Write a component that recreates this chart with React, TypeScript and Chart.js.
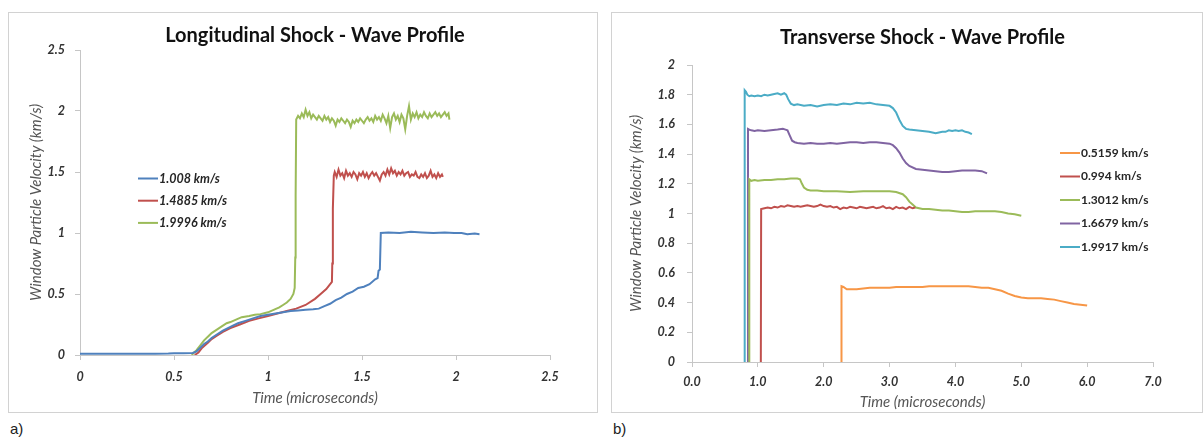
import React, { useEffect, useRef } from "react";
import { Chart, registerables } from "chart.js";

Chart.register(...registerables);

type Pt = [number, number];

// ---------- Longitudinal shock (panel a) ----------
const longTitle = "Longitudinal Shock - Wave Profile";
const longLabels = ["1.008 km/s", "1.4885 km/s", "1.9996 km/s"];
const longColors = ["#4F81BD", "#C0504D", "#9BBB59"];
const longXTicks = ["0", "0.5", "1", "1.5", "2", "2.5"];
const longYTicks = ["0", "0.5", "1", "1.5", "2", "2.5"];

const longBlue: Pt[] = [
  [0, 0.01], [0.1, 0.01], [0.2, 0.01], [0.3, 0.01], [0.4, 0.01], [0.47, 0.012], [0.5, 0.015],
  [0.55, 0.015], [0.6, 0.017], [0.62, 0.03], [0.64, 0.06], [0.66, 0.09], [0.68, 0.11], [0.7, 0.14],
  [0.73, 0.17], [0.76, 0.2], [0.8, 0.23], [0.84, 0.26], [0.88, 0.28], [0.92, 0.3], [0.96, 0.32],
  [1.0, 0.33], [1.04, 0.34], [1.08, 0.35], [1.12, 0.36], [1.16, 0.365], [1.2, 0.37], [1.24, 0.375],
  [1.27, 0.38], [1.3, 0.4], [1.33, 0.42], [1.36, 0.45], [1.39, 0.47], [1.42, 0.5], [1.45, 0.52],
  [1.48, 0.55], [1.51, 0.56], [1.54, 0.58], [1.57, 0.62], [1.583, 0.63], [1.588, 0.69], [1.595, 0.7],
  [1.6, 1.0], [1.64, 1.005], [1.7, 1.0], [1.76, 1.01], [1.82, 1.005], [1.88, 1.0], [1.94, 1.005],
  [1.99, 1.0], [2.03, 1.0], [2.06, 0.99], [2.1, 0.995], [2.125, 0.99],
];

const longRed: Pt[] = [
  [0.61, 0], [0.63, 0.02], [0.65, 0.06], [0.68, 0.1], [0.7, 0.13], [0.73, 0.16], [0.76, 0.19],
  [0.8, 0.22], [0.85, 0.25], [0.9, 0.28], [0.95, 0.3], [1.0, 0.32], [1.05, 0.34], [1.1, 0.36],
  [1.15, 0.38], [1.2, 0.41], [1.25, 0.46], [1.28, 0.5], [1.31, 0.54], [1.34, 0.6], [1.342, 0.75],
  [1.345, 1.2], [1.35, 1.47], [1.355, 1.5], [1.365, 1.46], [1.375, 1.52], [1.385, 1.47], [1.395, 1.49],
  [1.405, 1.45], [1.415, 1.51], [1.425, 1.47], [1.435, 1.49], [1.445, 1.46], [1.455, 1.5], [1.465, 1.48],
  [1.475, 1.44], [1.485, 1.49], [1.495, 1.47], [1.505, 1.5], [1.515, 1.46], [1.525, 1.49], [1.535, 1.45],
  [1.545, 1.48], [1.555, 1.5], [1.565, 1.47], [1.575, 1.49], [1.585, 1.46], [1.595, 1.43], [1.605, 1.48],
  [1.615, 1.5], [1.625, 1.47], [1.635, 1.52], [1.645, 1.48], [1.655, 1.53], [1.665, 1.49], [1.675, 1.51],
  [1.685, 1.47], [1.695, 1.5], [1.705, 1.48], [1.715, 1.51], [1.725, 1.47], [1.735, 1.49], [1.745, 1.5],
  [1.755, 1.46], [1.765, 1.48], [1.775, 1.47], [1.785, 1.5], [1.795, 1.46], [1.805, 1.45], [1.815, 1.48],
  [1.825, 1.46], [1.835, 1.49], [1.845, 1.45], [1.855, 1.47], [1.865, 1.51], [1.875, 1.46], [1.885, 1.48],
  [1.895, 1.45], [1.905, 1.49], [1.915, 1.46], [1.925, 1.48], [1.93, 1.46],
];

const longGreen: Pt[] = [
  [0.595, 0], [0.6, 0.01], [0.62, 0.04], [0.64, 0.08], [0.66, 0.12], [0.68, 0.15], [0.7, 0.18],
  [0.72, 0.2], [0.75, 0.23], [0.78, 0.26], [0.8, 0.27], [0.83, 0.29], [0.86, 0.31], [0.9, 0.32],
  [0.93, 0.33], [0.96, 0.335], [1.0, 0.35], [1.03, 0.37], [1.06, 0.39], [1.08, 0.41], [1.1, 0.43],
  [1.12, 0.46], [1.135, 0.5], [1.142, 0.55], [1.145, 0.8], [1.147, 1.3], [1.15, 1.93], [1.16, 1.96],
  [1.17, 1.94], [1.18, 1.98], [1.19, 1.95], [1.2, 2.01], [1.21, 1.96], [1.22, 1.99], [1.23, 1.94],
  [1.24, 1.97], [1.25, 1.95], [1.26, 1.93], [1.27, 1.96], [1.28, 1.94], [1.29, 1.92], [1.3, 1.96],
  [1.31, 1.93], [1.32, 1.95], [1.33, 1.91], [1.34, 1.94], [1.35, 1.92], [1.36, 1.88], [1.37, 1.93],
  [1.38, 1.91], [1.39, 1.94], [1.4, 1.92], [1.41, 1.9], [1.42, 1.93], [1.43, 1.91], [1.44, 1.87],
  [1.45, 1.92], [1.46, 1.9], [1.47, 1.93], [1.48, 1.91], [1.49, 1.94], [1.5, 1.92], [1.51, 1.9],
  [1.52, 1.93], [1.53, 1.95], [1.54, 1.92], [1.55, 1.94], [1.56, 1.91], [1.57, 1.96], [1.58, 1.93],
  [1.59, 1.95], [1.6, 1.92], [1.61, 1.97], [1.62, 1.94], [1.63, 1.9], [1.64, 1.96], [1.65, 1.86],
  [1.66, 1.95], [1.67, 1.98], [1.68, 1.93], [1.69, 1.96], [1.7, 1.91], [1.71, 1.97], [1.72, 1.94],
  [1.73, 1.85], [1.74, 1.96], [1.75, 2.04], [1.76, 1.93], [1.77, 1.98], [1.78, 1.95], [1.79, 1.99],
  [1.8, 1.94], [1.81, 1.97], [1.82, 1.95], [1.83, 1.99], [1.84, 1.96], [1.85, 1.94], [1.86, 1.98],
  [1.87, 1.95], [1.88, 1.97], [1.89, 1.99], [1.9, 1.96], [1.91, 1.98], [1.92, 1.95], [1.93, 1.97],
  [1.94, 1.99], [1.95, 1.96], [1.96, 1.98], [1.965, 1.93],
];

// ---------- Transverse shock (panel b) ----------
const transTitle = "Transverse Shock - Wave Profile";
const transLabels = ["0.5159 km/s", "0.994 km/s", "1.3012 km/s", "1.6679 km/s", "1.9917 km/s"];
const transColors = ["#F79646", "#C0504D", "#9BBB59", "#8064A2", "#4BACC6"];
const transXTicks = ["0.0", "1.0", "2.0", "3.0", "4.0", "5.0", "6.0", "7.0"];
const transYTicks = ["0", "0.2", "0.4", "0.6", "0.8", "1", "1.2", "1.4", "1.6", "1.8", "2"];

const transOrange: Pt[] = [
  [2.27, 0], [2.27, 0.51], [2.3, 0.505], [2.35, 0.49], [2.4, 0.49], [2.5, 0.49], [2.6, 0.495],
  [2.7, 0.5], [2.8, 0.5], [2.9, 0.5], [3.0, 0.5], [3.1, 0.505], [3.2, 0.505], [3.3, 0.505],
  [3.4, 0.505], [3.5, 0.505], [3.6, 0.51], [3.7, 0.51], [3.8, 0.51], [3.9, 0.51], [4.0, 0.51],
  [4.1, 0.51], [4.2, 0.51], [4.3, 0.505], [4.4, 0.5], [4.5, 0.5], [4.6, 0.49], [4.7, 0.48],
  [4.8, 0.46], [4.9, 0.445], [5.0, 0.435], [5.1, 0.43], [5.2, 0.43], [5.3, 0.43], [5.4, 0.425],
  [5.5, 0.42], [5.6, 0.41], [5.7, 0.4], [5.8, 0.39], [5.9, 0.385], [6.0, 0.38],
];

const transRed: Pt[] = [
  [1.045, 0], [1.05, 1.03], [1.1, 1.035], [1.15, 1.04], [1.2, 1.035], [1.25, 1.045], [1.3, 1.04],
  [1.35, 1.05], [1.4, 1.045], [1.45, 1.055], [1.5, 1.05], [1.55, 1.045], [1.6, 1.05], [1.65, 1.045],
  [1.7, 1.05], [1.75, 1.055], [1.8, 1.05], [1.85, 1.045], [1.9, 1.05], [1.95, 1.06], [2.0, 1.05],
  [2.05, 1.045], [2.1, 1.05], [2.15, 1.04], [2.2, 1.045], [2.25, 1.03], [2.3, 1.04], [2.35, 1.035],
  [2.4, 1.045], [2.45, 1.04], [2.5, 1.035], [2.55, 1.045], [2.6, 1.04], [2.65, 1.035], [2.7, 1.04],
  [2.75, 1.045], [2.8, 1.035], [2.85, 1.04], [2.9, 1.05], [2.95, 1.035], [3.0, 1.04], [3.05, 1.03],
  [3.1, 1.045], [3.15, 1.035], [3.2, 1.04], [3.25, 1.03], [3.3, 1.045], [3.35, 1.035], [3.39, 1.04],
];

const transGreen: Pt[] = [
  [0.87, 0], [0.87, 1.23], [0.9, 1.22], [0.95, 1.225], [1.0, 1.22], [1.1, 1.225], [1.2, 1.225],
  [1.3, 1.23], [1.4, 1.23], [1.5, 1.235], [1.6, 1.235], [1.64, 1.23], [1.67, 1.2], [1.7, 1.175],
  [1.75, 1.16], [1.8, 1.155], [1.9, 1.155], [2.0, 1.15], [2.2, 1.15], [2.4, 1.145], [2.6, 1.15],
  [2.8, 1.15], [3.0, 1.15], [3.1, 1.145], [3.2, 1.13], [3.25, 1.11], [3.3, 1.08], [3.35, 1.06],
  [3.4, 1.04], [3.5, 1.03], [3.6, 1.03], [3.7, 1.025], [3.8, 1.02], [3.9, 1.02], [4.0, 1.015],
  [4.1, 1.01], [4.2, 1.01], [4.3, 1.015], [4.4, 1.015], [4.5, 1.015], [4.6, 1.015], [4.7, 1.01],
  [4.8, 1.0], [4.9, 0.995], [5.0, 0.985],
];

const transPurple: Pt[] = [
  [0.85, 0], [0.85, 1.57], [0.87, 1.565], [0.9, 1.56], [0.95, 1.555], [1.0, 1.56], [1.1, 1.555],
  [1.2, 1.56], [1.3, 1.565], [1.38, 1.57], [1.42, 1.565], [1.45, 1.56], [1.48, 1.53], [1.52, 1.49],
  [1.56, 1.48], [1.6, 1.475], [1.7, 1.47], [1.8, 1.475], [1.9, 1.47], [2.0, 1.47], [2.1, 1.475],
  [2.2, 1.47], [2.3, 1.475], [2.4, 1.48], [2.5, 1.48], [2.6, 1.475], [2.7, 1.48], [2.8, 1.48],
  [2.9, 1.475], [3.0, 1.47], [3.05, 1.46], [3.1, 1.44], [3.15, 1.41], [3.2, 1.37], [3.25, 1.34],
  [3.3, 1.32], [3.4, 1.3], [3.5, 1.295], [3.6, 1.29], [3.7, 1.285], [3.8, 1.28], [3.9, 1.28],
  [4.0, 1.285], [4.1, 1.29], [4.2, 1.29], [4.3, 1.29], [4.4, 1.285], [4.48, 1.27],
];

const transAqua: Pt[] = [
  [0.8, 0], [0.8, 1.83], [0.82, 1.82], [0.84, 1.8], [0.87, 1.79], [0.9, 1.795], [0.95, 1.79],
  [1.0, 1.795], [1.05, 1.79], [1.1, 1.8], [1.15, 1.795], [1.2, 1.8], [1.25, 1.805], [1.3, 1.81],
  [1.35, 1.8], [1.4, 1.81], [1.43, 1.8], [1.46, 1.77], [1.5, 1.74], [1.55, 1.73], [1.6, 1.735],
  [1.7, 1.725], [1.8, 1.73], [1.9, 1.72], [2.0, 1.73], [2.1, 1.735], [2.2, 1.73], [2.3, 1.74],
  [2.4, 1.735], [2.5, 1.745], [2.6, 1.74], [2.7, 1.745], [2.8, 1.735], [2.9, 1.73], [3.0, 1.725],
  [3.05, 1.71], [3.1, 1.68], [3.15, 1.63], [3.2, 1.59], [3.25, 1.57], [3.3, 1.565], [3.4, 1.56],
  [3.5, 1.555], [3.6, 1.55], [3.65, 1.545], [3.7, 1.54], [3.75, 1.545], [3.8, 1.55], [3.85, 1.55],
  [3.9, 1.56], [3.95, 1.555], [4.0, 1.56], [4.05, 1.555], [4.1, 1.56], [4.15, 1.55], [4.2, 1.545],
  [4.25, 1.535],
];

const yAxisTitle = "Window Particle Velocity (km/s)";
const xAxisTitle = "Time (microseconds)";

// ---------- helpers ----------
const FONT = "Lato, 'Open Sans', sans-serif";
const AXIS_COLOR = "#c6c6c6";

type LegendCfg = { x: number; y: number; gap: number; font: string };

function makeLegend(cfg: LegendCfg) {
  return {
    id: "floatLegend",
    afterDraw(chart: any) {
      const ctx = chart.ctx as CanvasRenderingContext2D;
      ctx.save();
      chart.data.datasets.forEach((ds: any, i: number) => {
        const y = cfg.y + i * cfg.gap;
        ctx.strokeStyle = ds.borderColor;
        ctx.lineWidth = 2;
        ctx.beginPath();
        ctx.moveTo(cfg.x, y);
        ctx.lineTo(cfg.x + 20, y);
        ctx.stroke();
        ctx.font = cfg.font;
        ctx.fillStyle = "#262626";
        ctx.textAlign = "left";
        ctx.textBaseline = "middle";
        ctx.fillText(ds.label, cfg.x + 21, y);
      });
      ctx.restore();
    },
  };
}

type Layout = {
  yWidth: number;
  xHeight: number;
  right: number;
  titlePad: { top: number; bottom: number };
  yTitlePad: number;
  xTitlePad: number;
  xTickPad: number;
  yTickPad: number;
};

function buildConfig(
  title: string,
  series: Pt[][],
  labels: string[],
  colors: string[],
  xTicks: string[],
  yTicks: string[],
  xRange: [number, number, number],
  yRange: [number, number, number],
  lay: Layout,
  legend: LegendCfg
): any {
  const tickFont = { family: FONT, size: 12.5, weight: "bold" as const, style: "italic" as const, lineHeight: 1.2 };
  const axisTitleFont = { family: FONT, size: 15, style: "italic" as const, lineHeight: 1.2 };
  return {
    type: "line",
    data: {
      datasets: series.map((pts, i) => ({
        label: labels[i],
        data: pts.map(([x, y]) => ({ x, y })),
        borderColor: colors[i],
        backgroundColor: colors[i],
        borderWidth: 2,
        pointRadius: 0,
        tension: 0,
        fill: false,
      })),
    },
    options: {
      animation: false,
      responsive: false,
      maintainAspectRatio: false,
      layout: { padding: { left: 0, right: lay.right, top: 0, bottom: 0 } },
      plugins: {
        legend: { display: false },
        tooltip: { enabled: false },
        title: {
          display: true,
          fullSize: false,
          text: title,
          color: "#111",
          font: { family: FONT, size: 20, weight: "bold", lineHeight: 1.2 },
          padding: lay.titlePad,
        },
      },
      scales: {
        x: {
          type: "linear",
          min: xRange[0],
          max: xRange[1],
          afterFit: (s: any) => {
            s.height = lay.xHeight;
          },
          ticks: {
            stepSize: xRange[2],
            color: "#333",
            font: tickFont,
            padding: lay.xTickPad,
            maxRotation: 0,
            autoSkip: false,
            callback: (_v: any, i: number) => xTicks[i],
          },
          grid: { drawOnChartArea: false, drawTicks: true, tickLength: 5, color: AXIS_COLOR },
          border: { display: true, color: AXIS_COLOR, width: 1 },
          title: {
            display: true,
            text: xAxisTitle,
            color: "#555",
            font: axisTitleFont,
            padding: { top: 0, bottom: lay.xTitlePad },
          },
        },
        y: {
          type: "linear",
          min: yRange[0],
          max: yRange[1],
          afterFit: (s: any) => {
            s.width = lay.yWidth;
          },
          ticks: {
            stepSize: yRange[2],
            color: "#333",
            font: tickFont,
            padding: lay.yTickPad,
            autoSkip: false,
            callback: (_v: any, i: number) => yTicks[i],
          },
          grid: { drawOnChartArea: false, drawTicks: true, tickLength: 5, color: AXIS_COLOR },
          border: { display: true, color: AXIS_COLOR, width: 1 },
          title: {
            display: true,
            text: yAxisTitle,
            color: "#555",
            font: axisTitleFont,
            padding: { top: lay.yTitlePad, bottom: 0 },
          },
        },
      },
    },
    plugins: [makeLegend(legend)],
  };
}

function ChartCanvas({ config, width, height }: { config: () => any; width: number; height: number }) {
  const ref = useRef<HTMLCanvasElement>(null);
  useEffect(() => {
    if (!ref.current) return;
    const chart = new Chart(ref.current, config());
    return () => chart.destroy();
  }, []);
  return (
    <canvas
      ref={ref}
      width={width}
      height={height}
      style={{ position: "absolute", left: 0, top: 0, width, height }}
    />
  );
}

const leftConfig = () =>
  buildConfig(
    longTitle,
    [longBlue, longRed, longGreen],
    longLabels,
    longColors,
    longXTicks,
    longYTicks,
    [0, 2.5, 0.5],
    [0, 2.5, 0.5],
    {
      yWidth: 71,
      xHeight: 57,
      right: 47,
      titlePad: { top: 11, bottom: 2 },
      yTitlePad: 18,
      xTitlePad: 5,
      xTickPad: 9.5,
      yTickPad: 10,
    },
    { x: 129, y: 165.5, gap: 22.2, font: `italic bold 12.5px ${FONT}` }
  );

const rightConfig = () =>
  buildConfig(
    transTitle,
    [transOrange, transRed, transGreen, transPurple, transAqua],
    transLabels,
    transColors,
    transXTicks,
    transYTicks,
    [0, 7, 1],
    [0, 2, 0.2],
    {
      yWidth: 80,
      xHeight: 50,
      right: 49,
      titlePad: { top: 13, bottom: 15 },
      yTitlePad: 15,
      xTitlePad: 1,
      xTickPad: 7.5,
      yTickPad: 12,
    },
    { x: 448, y: 140, gap: 23.5, font: `bold 12px ${FONT}` }
  );

export default function App() {
  const panel: React.CSSProperties = {
    position: "absolute",
    top: 12,
    height: 401,
    border: "1px solid #d2d2d2",
    boxSizing: "border-box",
    background: "#fff",
  };
  const tag: React.CSSProperties = {
    position: "absolute",
    top: 420,
    fontFamily: "'Liberation Sans', Arial, sans-serif",
    fontSize: 15,
    color: "#222",
    lineHeight: "18px",
  };
  return (
    <div
      style={{
        position: "absolute",
        left: 0,
        top: 0,
        width: 1204,
        height: 439,
        background: "#fff",
        overflow: "hidden",
      }}
    >
      <div style={{ ...panel, left: 8, width: 590 }}>
        <ChartCanvas config={leftConfig} width={588} height={399} />
      </div>
      <div style={{ ...panel, left: 611, width: 592 }}>
        <ChartCanvas config={rightConfig} width={590} height={399} />
      </div>
      <div style={{ ...tag, left: 10 }}>a)</div>
      <div style={{ ...tag, left: 613 }}>b)</div>
    </div>
  );
}
